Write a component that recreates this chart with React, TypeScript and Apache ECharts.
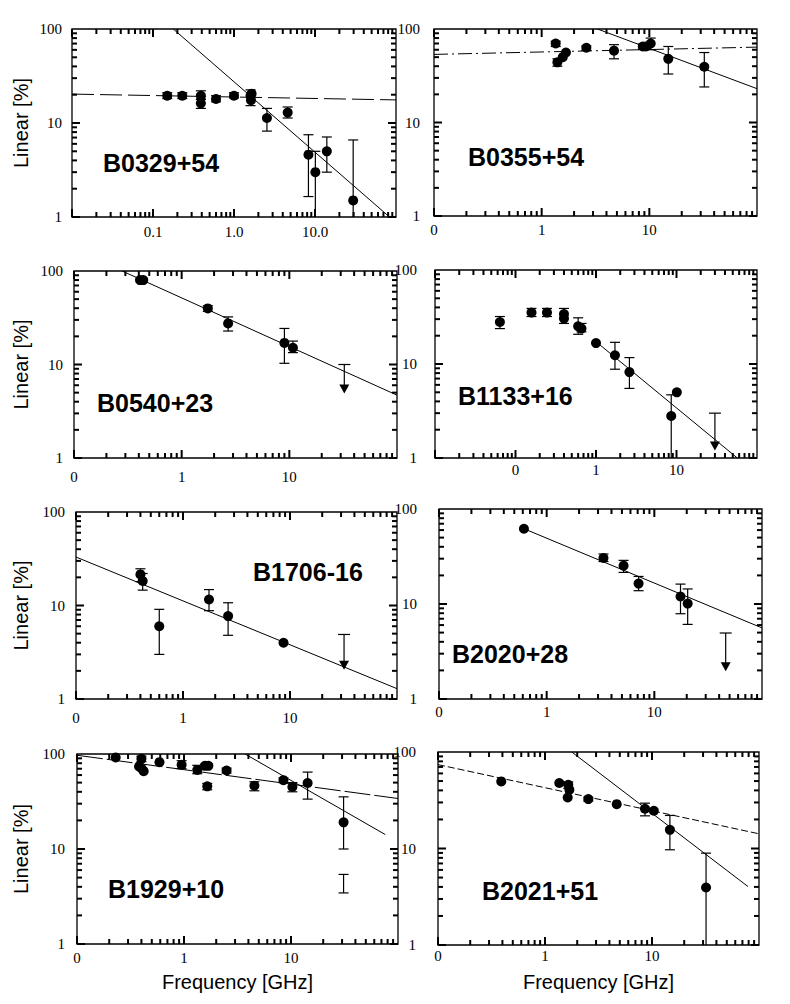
import React, { useEffect, useRef } from "react";
import * as echarts from "echarts";

// ---------- tick labels ----------
const Y_TICK_VALUES = [1, 10, 100];
const Y_TICK_LABELS = ["1", "10", "100"];
const X_TICK_VALUES = [0.1, 1, 10];
const X_TICK_LABELS_A = ["0.1", "1.0", "10.0"];
const X_TICK_LABELS_B = ["0", "1", "10"];
const MINOR_MULTIPLIERS = [1, 2, 3, 4, 5, 6, 7, 8, 9];

const PULSAR_NAMES = ["B0329+54", "B0355+54", "B0540+23", "B1133+16", "B1706-16", "B2020+28", "B1929+10", "B2021+51"];
const Y_TITLE = "Linear [%]";
const X_TITLE = "Frequency [GHz]";

// ---------- data: [freq GHz, linear %] ; errors [freq, lo, hi] ; limits [freq, upper, arrow] ----------
const B0329_POINTS = [[0.15, 19.5], [0.23, 19.5], [0.39, 19.5], [0.39, 16.2], [0.6, 18.0], [1.0, 19.5], [1.6, 19.5], [1.62, 17.5], [1.65, 20.5], [2.55, 11.3], [4.6, 12.9], [8.3, 4.6], [10.1, 3.0], [14, 5.0], [29.6, 1.5]];
const B0329_ERRORS = [[0.15, 18.2, 21], [0.23, 18.2, 21], [0.39, 17.8, 22], [0.39, 14.3, 18], [0.6, 16.8, 19.5], [1.0, 18.5, 21], [1.6, 15.3, 22.5], [2.55, 8.2, 14.3], [4.6, 11.3, 14.8], [8.3, 1.65, 7.5], [10.1, 1, 5.0], [14, 3.0, 7.1], [29.6, 1, 6.6]];
const B0329_FIT_FLAT = [[0.01, 20.3], [100, 17.6]];
const B0329_FIT_STEEP = [[0.178, 100], [80, 1.03]];

const B0355_POINTS = [[1.35, 70], [1.4, 44], [1.57, 50], [1.68, 56], [2.6, 63], [4.7, 58.6], [8.7, 65], [9.3, 65], [10.3, 70], [15, 48], [32.4, 39.5]];
const B0355_ERRORS = [[1.35, 65, 74], [1.4, 40, 48], [2.6, 59, 66], [4.7, 48, 68], [8.7, 61, 69], [10.3, 60, 80], [15, 33, 65], [32.4, 24, 56]];
const B0355_FIT_FLAT = [[0.1, 53.5], [100, 64]];
const B0355_FIT_STEEP = [[3.3, 100], [100, 23]];

const B0540_POINTS = [[0.41, 80], [0.44, 80], [1.75, 39.8], [2.7, 27.5], [9.0, 17], [10.8, 15.1]];
const B0540_ERRORS = [[0.42, 76, 84], [1.75, 37, 42.5], [2.7, 22.8, 32.3], [9.0, 10.3, 24.3], [10.8, 13.4, 17.8]];
const B0540_LIMITS = [[32.4, 10, 4.9]];
const B0540_FIT = [[0.28, 100], [100, 4.7]];

const B1133_POINTS = [[0.064, 28], [0.158, 35.2], [0.246, 35.2], [0.4, 34], [0.4, 30.4], [0.6, 25.2], [0.66, 23.8], [1.0, 16.7], [1.72, 12.4], [2.6, 8.2], [8.6, 2.8], [10.1, 5.0]];
const B1133_ERRORS = [[0.064, 23.8, 32], [0.158, 32, 39], [0.246, 32, 39], [0.4, 27, 39], [0.6, 20.7, 31], [0.66, 22, 27], [1.72, 8.8, 17], [2.6, 5.5, 11.7], [8.6, 1, 4.7]];
const B1133_LIMITS = [[30, 3.0, 1.2]];
const B1133_FIT = [[1.05, 16.7], [57, 1]];

const B1706_POINTS = [[0.4, 21.5], [0.42, 18.3], [0.6, 6.0], [1.75, 11.6], [2.64, 7.7], [8.7, 4.0]];
const B1706_ERRORS = [[0.4, 18, 24.7], [0.42, 14.6, 22], [0.6, 3.0, 9.1], [1.75, 8.8, 14.8], [2.64, 4.8, 10.7]];
const B1706_LIMITS = [[32, 4.9, 2.05]];
const B1706_FIT = [[0.1, 33], [100, 1.29]];

const B2020_POINTS = [[0.615, 62], [3.37, 30.5], [5.18, 25.3], [7.14, 16.4], [17.5, 12], [20.4, 10.1]];
const B2020_ERRORS = [[3.37, 28, 33.6], [5.18, 21.5, 28.8], [7.14, 13.8, 19.5], [17.5, 7.9, 16.2], [20.4, 6.1, 14.4]];
const B2020_LIMITS = [[46, 4.95, 1.96]];
const B2020_FIT = [[0.615, 62], [100, 5.6]];

const B1929_POINTS = [[0.23, 92], [0.4, 89], [0.38, 74], [0.4, 71], [0.42, 66], [0.59, 82], [0.95, 77], [1.33, 68], [1.57, 75], [1.69, 75], [1.65, 45.7], [2.5, 67], [4.55, 46.4], [8.5, 53], [10.3, 45], [14.3, 49.5], [31, 19.1]];
const B1929_ERRORS = [[0.4, 83, 95], [0.95, 70, 85], [1.33, 62, 76], [1.65, 42, 49], [2.5, 63, 71], [4.55, 41, 51], [8.5, 50, 56], [10.3, 40, 50], [14.3, 33.5, 64.5], [31, 10, 35.4], [31, 3.45, 5.4, 1]];
const B1929_FIT_FLAT = [[0.1, 97], [100, 34]];
const B1929_FIT_STEEP = [[3.72, 100], [76, 14.2]];

const B2021_POINTS = [[0.39, 49.6], [1.36, 47.7], [1.65, 45.8], [1.69, 40.6], [1.63, 33.8], [2.54, 32.5], [4.68, 28.8], [8.6, 25.8], [10.4, 24.6], [14.7, 15.6], [32, 3.94]];
const B2021_ERRORS = [[1.65, 42, 49], [2.54, 31, 34], [8.6, 21.8, 29.5], [14.7, 9.7, 22], [32, 1, 8.95]];
const B2021_FIT_FLAT = [[0.1, 74], [100, 14.2]];
const B2021_FIT_STEEP = [[1.78, 100], [79, 4.03]];

const X_MINS = [0.01, 0.1, 0.1, 0.01, 0.1, 0.1, 0.1, 0.1];
const X_MAX = 100;
const Y_MIN = 1;
const Y_MAX = 100;

const PANELS = [
  { points: B0329_POINTS, errors: B0329_ERRORS, limits: [], fits: [B0329_FIT_FLAT, B0329_FIT_STEEP], xLabels: X_TICK_LABELS_A },
  { points: B0355_POINTS, errors: B0355_ERRORS, limits: [], fits: [B0355_FIT_FLAT, B0355_FIT_STEEP], xLabels: X_TICK_LABELS_B },
  { points: B0540_POINTS, errors: B0540_ERRORS, limits: B0540_LIMITS, fits: [B0540_FIT], xLabels: X_TICK_LABELS_B },
  { points: B1133_POINTS, errors: B1133_ERRORS, limits: B1133_LIMITS, fits: [B1133_FIT], xLabels: X_TICK_LABELS_B },
  { points: B1706_POINTS, errors: B1706_ERRORS, limits: B1706_LIMITS, fits: [B1706_FIT], xLabels: X_TICK_LABELS_B },
  { points: B2020_POINTS, errors: B2020_ERRORS, limits: B2020_LIMITS, fits: [B2020_FIT], xLabels: X_TICK_LABELS_B },
  { points: B1929_POINTS, errors: B1929_ERRORS, limits: [], fits: [B1929_FIT_FLAT, B1929_FIT_STEEP], xLabels: X_TICK_LABELS_B },
  { points: B2021_POINTS, errors: B2021_ERRORS, limits: [], fits: [B2021_FIT_FLAT, B2021_FIT_STEEP], xLabels: X_TICK_LABELS_B },
];

// ---------- layout / styles ----------
const LAYOUT = [
  { left: 72, top: 29, width: 324, height: 188, yMargin: 10, xMargin: 7, nameX: 103, nameY: 163 },
  { left: 434, top: 29, width: 323, height: 187, yMargin: 14, xMargin: 6, nameX: 468, nameY: 157 },
  { left: 74, top: 271, width: 323, height: 187, yMargin: 11, xMargin: 11, nameX: 97, nameY: 403 },
  { left: 435, top: 270, width: 322, height: 188, yMargin: 18, xMargin: 4, nameX: 458, nameY: 396 },
  { left: 76, top: 512, width: 321, height: 187, yMargin: 11, xMargin: 11, nameX: 253, nameY: 572 },
  { left: 439, top: 509, width: 323, height: 190, yMargin: 22, xMargin: 5, nameX: 452, nameY: 654 },
  { left: 77, top: 754, width: 321, height: 190, yMargin: 12, xMargin: 6, nameX: 108, nameY: 889 },
  { left: 438, top: 752, width: 321, height: 193, yMargin: 22, xMargin: 3, nameX: 482, nameY: 891 },
];
const FIT_STYLES: any[][] = [
  [[22, 6], "solid"],
  [[14, 4, 2, 4], "solid"],
  ["solid"],
  ["solid"],
  ["solid"],
  ["solid"],
  [[26, 4], "solid"],
  [[7, 3], "solid"],
];
const MAJOR_TICK = 8;
const MINOR_TICK = 5;

const SERIF = "'Liberation Serif', 'DejaVu Serif', serif";
const SANS = "'Liberation Sans', Arial, sans-serif";

function labelFor(v: number, values: number[], labels: string[]) {
  for (let k = 0; k < values.length; k++) {
    if (Math.abs(Math.log10(v) - Math.log10(values[k])) < 1e-6) return labels[k];
  }
  return "";
}

function ln(x1: number, y1: number, x2: number, y2: number, w: number) {
  return { type: "line", shape: { x1, y1, x2, y2 }, style: { stroke: "#000", lineWidth: w } };
}

function errRender(params: any, api: any) {
  const x = api.value(0), lo = api.value(1), hi = api.value(2);
  const noTopCap = api.value(3) === 1;
  const a = api.coord([x, hi]);
  const b = api.coord([x, lo]);
  const children: any[] = [ln(a[0], a[1], b[0], b[1], 1.2)];
  if (hi < 99.9 && !noTopCap) children.push(ln(a[0] - 5, a[1], a[0] + 5, a[1], 1.2));
  if (lo > 1.001) children.push(ln(b[0] - 5, b[1], b[0] + 5, b[1], 1.2));
  return { type: "group", children };
}

function limitRender(params: any, api: any) {
  const x = api.value(0), up = api.value(1), ar = api.value(2);
  const a = api.coord([x, up]);
  const b = api.coord([x, ar]);
  return {
    type: "group",
    children: [
      ln(a[0] - 6, a[1], a[0] + 6, a[1], 1.2),
      ln(a[0], a[1], b[0], b[1] - 6, 1.2),
      { type: "polygon", shape: { points: [[b[0] - 5, b[1] - 9], [b[0] + 5, b[1] - 9], [b[0], b[1]]] }, style: { fill: "#000" } },
    ],
  };
}

// frame tick items: [x, y, y, major, side]; side 0 bottom, 1 top, 2 left, 3 right
function tickData(xMin: number) {
  const out: number[][] = [];
  const dx0 = Math.round(Math.log10(xMin)), dx1 = Math.round(Math.log10(X_MAX));
  for (let d = dx0; d < dx1; d++) {
    for (const m of MINOR_MULTIPLIERS) {
      const v = m * Math.pow(10, d);
      out.push([v, Y_MIN, Y_MIN, m === 1 ? 1 : 0, 0]);
      out.push([v, Y_MAX, Y_MAX, m === 1 ? 1 : 0, 1]);
    }
  }
  const dy0 = Math.round(Math.log10(Y_MIN)), dy1 = Math.round(Math.log10(Y_MAX));
  for (let d = dy0; d < dy1; d++) {
    for (const m of MINOR_MULTIPLIERS) {
      const v = m * Math.pow(10, d);
      out.push([xMin, v, v, m === 1 ? 1 : 0, 2]);
      out.push([X_MAX, v, v, m === 1 ? 1 : 0, 3]);
    }
  }
  return out;
}

function tickRender(params: any, api: any) {
  const x = api.value(0), y = api.value(1), major = api.value(3), side = api.value(4);
  const p = api.coord([x, y]);
  const len = major === 1 ? MAJOR_TICK : MINOR_TICK;
  let x2 = p[0], y2 = p[1];
  if (side === 0) y2 = p[1] - len;
  else if (side === 1) y2 = p[1] + len;
  else if (side === 2) x2 = p[0] + len;
  else x2 = p[0] - len;
  return { type: "line", shape: { x1: p[0], y1: p[1], x2, y2 }, style: { stroke: "#000", lineWidth: 2 } };
}

function buildOption() {
  const grid = LAYOUT.map((l) => ({
    left: l.left, top: l.top, width: l.width, height: l.height,
    show: true, borderColor: "#000", borderWidth: 1.3,
  }));
  const xAxis = PANELS.map((p, i) => ({
    type: "log", logBase: 10, gridIndex: i, min: X_MINS[i], max: X_MAX,
    axisLine: { show: false }, axisTick: { show: false }, splitLine: { show: false },
    axisLabel: {
      show: true, margin: LAYOUT[i].xMargin, fontFamily: SERIF, fontSize: 15, color: "#000",
      showMinLabel: true, showMaxLabel: true, hideOverlap: false,
      formatter: (v: number) => labelFor(v, X_TICK_VALUES, p.xLabels),
    },
  }));
  const yAxis = PANELS.map((p, i) => ({
    type: "log", logBase: 10, gridIndex: i, min: Y_MIN, max: Y_MAX,
    axisLine: { show: false }, axisTick: { show: false }, splitLine: { show: false },
    axisLabel: {
      show: true, margin: LAYOUT[i].yMargin, fontFamily: SERIF, fontSize: 15, color: "#000",
      showMinLabel: true, showMaxLabel: true, hideOverlap: false,
      formatter: (v: number) => labelFor(v, Y_TICK_VALUES, Y_TICK_LABELS),
    },
  }));
  const series: any[] = [];
  PANELS.forEach((p, i) => {
    p.fits.forEach((f, k) => {
      series.push({
        type: "line", xAxisIndex: i, yAxisIndex: i, data: f, symbol: "none", showSymbol: false, silent: true, z: 2,
        lineStyle: { color: "#000", width: 1, type: FIT_STYLES[i][k] },
      });
    });
    series.push({
      type: "custom", xAxisIndex: i, yAxisIndex: i, data: p.errors, encode: { x: 0, y: [1, 2] }, silent: true, z: 3,
      renderItem: errRender,
    });
    if (p.limits.length) {
      series.push({
        type: "custom", xAxisIndex: i, yAxisIndex: i, data: p.limits, encode: { x: 0, y: [1, 2] }, silent: true, z: 3,
        renderItem: limitRender,
      });
    }
    series.push({
      type: "scatter", xAxisIndex: i, yAxisIndex: i, data: p.points, symbol: "circle", symbolSize: 10, silent: true, z: 4,
      itemStyle: { color: "#000", opacity: 1 },
    });
    series.push({
      type: "custom", xAxisIndex: i, yAxisIndex: i, data: tickData(X_MINS[i]), encode: { x: 0, y: [1, 2] }, z: 6,
      renderItem: tickRender,
    });
  });

  const graphic: any[] = [];
  PANELS.forEach((p, i) => {
    graphic.push({
      type: "text", x: LAYOUT[i].nameX, y: LAYOUT[i].nameY, silent: true,
      style: {
        text: PULSAR_NAMES[i], fill: "#000", fontFamily: SANS, fontWeight: "bold", fontSize: 25,
        align: "left", verticalAlign: "middle", textAlign: "left", textVerticalAlign: "middle",
      },
    });
  });
  [0, 2, 4, 6].forEach((i) => {
    graphic.push({
      type: "text", x: 21, y: LAYOUT[i].top + LAYOUT[i].height / 2, rotation: Math.PI / 2, silent: true,
      style: {
        text: Y_TITLE, fill: "#000", fontFamily: SANS, fontSize: 20,
        align: "center", verticalAlign: "middle", textAlign: "center", textVerticalAlign: "middle",
      },
    });
  });
  [6, 7].forEach((i) => {
    graphic.push({
      type: "text", x: LAYOUT[i].left + LAYOUT[i].width / 2, y: 982, silent: true,
      style: {
        text: X_TITLE, fill: "#000", fontFamily: SANS, fontSize: 20,
        align: "center", verticalAlign: "middle", textAlign: "center", textVerticalAlign: "middle",
      },
    });
  });

  return {
    animation: false,
    backgroundColor: "#fff",
    textStyle: { fontFamily: SANS },
    grid, xAxis, yAxis, series, graphic,
  };
}

export default function App() {
  const ref = useRef<HTMLDivElement>(null);
  useEffect(() => {
    if (!ref.current) return;
    const chart = echarts.init(ref.current, null, { renderer: "svg" });
    chart.setOption(buildOption() as any);
    return () => chart.dispose();
  }, []);
  return (
    <div
      ref={ref}
      style={{ position: "absolute", left: 0, top: 0, width: 790, height: 1004, background: "#fff" }}
    />
  );
}
